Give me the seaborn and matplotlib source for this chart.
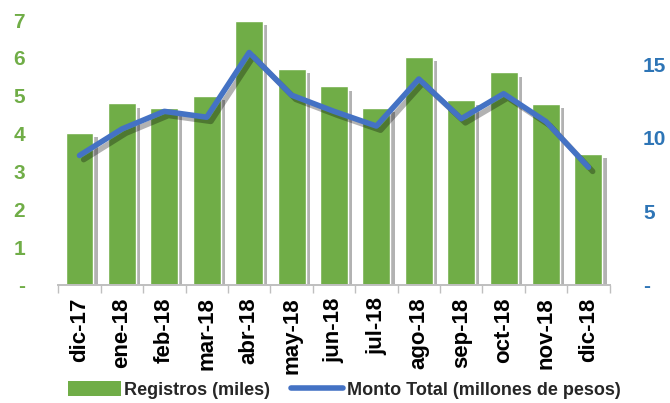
import matplotlib
matplotlib.use("Agg")
import matplotlib.pyplot as plt
import matplotlib.patheffects as pe
from matplotlib.patches import Patch
from matplotlib.lines import Line2D
import seaborn as sns
import pandas as pd

months = ["dic-17", "ene-18", "feb-18", "mar-18", "abr-18", "may-18", "jun-18",
          "jul-18", "ago-18", "sep-18", "oct-18", "nov-18", "dic-18"]
registros = [4.01, 4.80, 4.67, 4.99, 6.98, 5.70, 5.25, 4.67, 6.02, 4.88, 5.62, 4.78, 3.46]
monto = [8.8, 10.6, 11.8, 11.4, 15.8, 12.9, 11.8, 10.8, 14.0, 11.3, 13.0, 11.1, 8.0]
left_ticks = [0, 1, 2, 3, 4, 5, 6, 7]
left_labels = ["-", "1", "2", "3", "4", "5", "6", "7"]
right_ticks = [0, 5, 10, 15]
right_labels = ["-", "5", "10", "15"]

green = "#70AD47"
blue = "#4472C4"
blue_txt = "#2E75B6"

sns.set_theme(style="white")
plt.rcParams["font.family"] = ["Liberation Sans", "DejaVu Sans"]

df = pd.DataFrame({"mes": months, "registros": registros, "monto": monto, "pos": range(len(months))})

fig = plt.figure(figsize=(6.7, 4.03), dpi=100)
ax = fig.add_axes([0.087, 0.293, 0.823, 0.657])

sns.barplot(data=df, x="mes", y="registros", color=green, saturation=1, width=0.66, ax=ax)
for p in ax.patches:
    p.set_path_effects([pe.SimplePatchShadow(offset=(3, -3), shadow_rgbFace="black", alpha=0.3), pe.Normal()])

ax2 = ax.twinx()
sns.lineplot(data=df, x="pos", y="monto", color=blue, linewidth=4, sort=False, ax=ax2)
for l in ax2.lines:
    l.set_path_effects([pe.SimpleLineShadow(offset=(3, -3), shadow_color="black", alpha=0.3), pe.Normal()])
    l.set_solid_capstyle("round")

ax.set_xlim(-0.5, len(months) - 0.5)
ax.set_ylim(0, 7)
ax2.set_ylim(0, 18)

ax.set_yticks(left_ticks)
ax.set_yticklabels(left_labels, color=green, fontsize=15, fontweight="bold")
ax2.set_yticks(right_ticks)
ax2.set_yticklabels(right_labels, color=blue_txt, fontsize=15, fontweight="bold")
ax.tick_params(axis="y", length=0, pad=24)
ax2.tick_params(axis="y", length=0, pad=24)

ax.set_xticks(range(len(months)))
ax.set_xticklabels(months, rotation=90, fontsize=16, fontweight="bold", color="black")
ax.set_xticks([i - 0.5 for i in range(len(months) + 1)], minor=True)
ax.tick_params(axis="x", which="major", length=0, pad=9)
ax.tick_params(axis="x", which="minor", length=6, color="#BFBFBF", width=1, bottom=True)

ax.set_xlabel("")
ax.set_ylabel("")
ax2.set_xlabel("")
ax2.set_ylabel("")
for a in (ax, ax2):
    for s in ["top", "left", "right"]:
        a.spines[s].set_visible(False)
    a.spines["bottom"].set_color("#BFBFBF")
    a.grid(False)

handles = [Patch(facecolor=green, edgecolor="none"),
           Line2D([0], [0], color=blue, linewidth=4)]
fig.legend(handles, ["Registros (miles)", "Monto Total (millones de pesos)"],
           loc="center", bbox_to_anchor=(0.514, 0.032), ncol=2, frameon=False,
           prop={"size": 13, "weight": "bold"}, handlelength=2.9, handleheight=0.85,
           columnspacing=1.15, handletextpad=0.2, borderpad=0, borderaxespad=0)

fig.savefig("out.png", dpi=100)
